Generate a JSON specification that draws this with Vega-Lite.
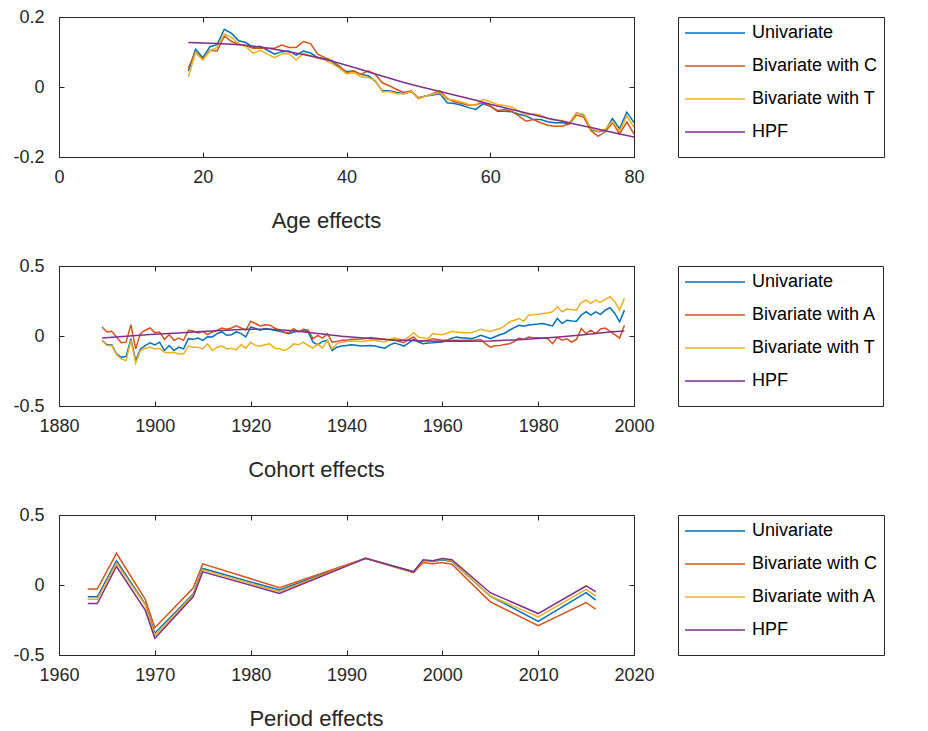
{
  "$schema": "https://vega.github.io/schema/vega-lite/v6.json",
  "padding": {"left": 12, "top": 7, "right": 0, "bottom": 0},
  "background": "white",
  "config": {
    "font": "Liberation Sans",
    "view": {"stroke": "#262626", "strokeWidth": 1},
    "locale": {"number": {"decimal": ".", "thousands": ",", "grouping": [3], "currency": ["$", ""], "minus": "-"}},
    "axis": {"grid": false, "domain": false, "tickColor": "#262626", "tickSize": -5, "tickWidth": 1, "labelFontSize": 18, "labelColor": "#262626", "titleFontSize": 22, "titleFontWeight": "normal", "titleColor": "#262626"},
    "axisX": {"labelPadding": 16, "titlePadding": 24, "labelFlush": false},
    "axisY": {"labelPadding": 20, "title": null},
    "legend": {"orient": "right", "offset": 43, "padding": 6, "strokeColor": "#262626", "symbolType": "stroke", "symbolSize": 3600, "symbolStrokeWidth": 1.5, "labelFontSize": 18, "labelColor": "#000000", "clipHeight": 20, "rowPadding": 13, "labelOffset": 6, "labelLimit": 400, "titleOrient": "bottom", "titleFontSize": 7, "titlePadding": 2},
    "concat": {"spacing": 24}
  },
  "datasets": {
    "age": [
      {"age": 18, "Univariate": 0.046, "Bivariate with C": 0.055, "Bivariate with T": 0.029, "HPF": 0.127},
      {"age": 19, "Univariate": 0.108, "Bivariate with C": 0.099, "Bivariate with T": 0.099},
      {"age": 20, "Univariate": 0.084, "Bivariate with C": 0.079, "Bivariate with T": 0.077, "HPF": 0.126},
      {"age": 21, "Univariate": 0.115, "Bivariate with C": 0.105, "Bivariate with T": 0.103},
      {"age": 22, "Univariate": 0.121, "Bivariate with C": 0.103, "Bivariate with T": 0.113, "HPF": 0.124},
      {"age": 23, "Univariate": 0.165, "Bivariate with C": 0.146, "Bivariate with T": 0.151},
      {"age": 24, "Univariate": 0.153, "Bivariate with C": 0.130, "Bivariate with T": 0.142, "HPF": 0.122},
      {"age": 25, "Univariate": 0.132, "Bivariate with C": 0.122, "Bivariate with T": 0.124},
      {"age": 26, "Univariate": 0.127, "Bivariate with C": 0.118, "Bivariate with T": 0.115, "HPF": 0.119},
      {"age": 27, "Univariate": 0.113, "Bivariate with C": 0.111, "Bivariate with T": 0.096},
      {"age": 28, "Univariate": 0.116, "Bivariate with C": 0.111, "Bivariate with T": 0.105, "HPF": 0.114},
      {"age": 29, "Univariate": 0.105, "Bivariate with C": 0.111, "Bivariate with T": 0.094},
      {"age": 30, "Univariate": 0.094, "Bivariate with C": 0.111, "Bivariate with T": 0.084, "HPF": 0.108},
      {"age": 31, "Univariate": 0.101, "Bivariate with C": 0.120, "Bivariate with T": 0.094},
      {"age": 32, "Univariate": 0.103, "Bivariate with C": 0.113, "Bivariate with T": 0.096, "HPF": 0.101},
      {"age": 33, "Univariate": 0.091, "Bivariate with C": 0.113, "Bivariate with T": 0.077},
      {"age": 34, "Univariate": 0.103, "Bivariate with C": 0.130, "Bivariate with T": 0.096, "HPF": 0.093},
      {"age": 35, "Univariate": 0.097, "Bivariate with C": 0.124, "Bivariate with T": 0.089},
      {"age": 36, "Univariate": 0.084, "Bivariate with C": 0.094, "Bivariate with T": 0.082, "HPF": 0.084},
      {"age": 37, "Univariate": 0.081, "Bivariate with C": 0.084, "Bivariate with T": 0.077},
      {"age": 38, "Univariate": 0.073, "Bivariate with C": 0.075, "Bivariate with T": 0.067, "HPF": 0.074},
      {"age": 39, "Univariate": 0.055, "Bivariate with C": 0.060, "Bivariate with T": 0.054},
      {"age": 40, "Univariate": 0.044, "Bivariate with C": 0.041, "Bivariate with T": 0.038, "HPF": 0.062},
      {"age": 41, "Univariate": 0.046, "Bivariate with C": 0.046, "Bivariate with T": 0.041},
      {"age": 42, "Univariate": 0.036, "Bivariate with C": 0.036, "Bivariate with T": 0.029, "HPF": 0.050},
      {"age": 43, "Univariate": 0.032, "Bivariate with C": 0.046, "Bivariate with T": 0.027},
      {"age": 44, "Univariate": 0.017, "Bivariate with C": 0.036, "Bivariate with T": 0.019, "HPF": 0.037},
      {"age": 45, "Univariate": -0.011, "Bivariate with C": 0.012, "Bivariate with T": -0.014},
      {"age": 46, "Univariate": -0.011, "Bivariate with C": 0.003, "Bivariate with T": -0.013, "HPF": 0.025},
      {"age": 47, "Univariate": -0.016, "Bivariate with C": -0.007, "Bivariate with T": -0.019},
      {"age": 48, "Univariate": -0.019, "Bivariate with C": -0.016, "Bivariate with T": -0.019, "HPF": 0.013},
      {"age": 49, "Univariate": -0.013, "Bivariate with C": -0.011, "Bivariate with T": -0.013},
      {"age": 50, "Univariate": -0.031, "Bivariate with C": -0.033, "Bivariate with T": -0.033, "HPF": 0.002},
      {"age": 51, "Univariate": -0.026, "Bivariate with C": -0.026, "Bivariate with T": -0.026},
      {"age": 52, "Univariate": -0.023, "Bivariate with C": -0.019, "Bivariate with T": -0.021, "HPF": -0.008},
      {"age": 53, "Univariate": -0.019, "Bivariate with C": -0.011, "Bivariate with T": -0.016},
      {"age": 54, "Univariate": -0.045, "Bivariate with C": -0.033, "Bivariate with T": -0.035, "HPF": -0.018},
      {"age": 55, "Univariate": -0.047, "Bivariate with C": -0.042, "Bivariate with T": -0.037},
      {"age": 56, "Univariate": -0.052, "Bivariate with C": -0.047, "Bivariate with T": -0.043, "HPF": -0.028},
      {"age": 57, "Univariate": -0.059, "Bivariate with C": -0.052, "Bivariate with T": -0.050},
      {"age": 58, "Univariate": -0.064, "Bivariate with C": -0.050, "Bivariate with T": -0.052, "HPF": -0.038},
      {"age": 59, "Univariate": -0.048, "Bivariate with C": -0.045, "Bivariate with T": -0.035},
      {"age": 60, "Univariate": -0.055, "Bivariate with C": -0.055, "Bivariate with T": -0.042, "HPF": -0.049},
      {"age": 61, "Univariate": -0.069, "Bivariate with C": -0.067, "Bivariate with T": -0.050},
      {"age": 62, "Univariate": -0.069, "Bivariate with C": -0.064, "Bivariate with T": -0.053, "HPF": -0.059},
      {"age": 63, "Univariate": -0.071, "Bivariate with C": -0.069, "Bivariate with T": -0.057},
      {"age": 64, "Univariate": -0.078, "Bivariate with C": -0.083, "Bivariate with T": -0.069, "HPF": -0.069},
      {"age": 65, "Univariate": -0.083, "Bivariate with C": -0.098, "Bivariate with T": -0.080},
      {"age": 66, "Univariate": -0.093, "Bivariate with C": -0.093, "Bivariate with T": -0.077, "HPF": -0.079},
      {"age": 67, "Univariate": -0.093, "Bivariate with C": -0.102, "Bivariate with T": -0.080},
      {"age": 68, "Univariate": -0.099, "Bivariate with C": -0.109, "Bivariate with T": -0.090, "HPF": -0.089},
      {"age": 69, "Univariate": -0.102, "Bivariate with C": -0.112, "Bivariate with T": -0.094},
      {"age": 70, "Univariate": -0.102, "Bivariate with C": -0.112, "Bivariate with T": -0.096, "HPF": -0.098},
      {"age": 71, "Univariate": -0.105, "Bivariate with C": -0.105, "Bivariate with T": -0.102},
      {"age": 72, "Univariate": -0.074, "Bivariate with C": -0.080, "Bivariate with T": -0.074, "HPF": -0.107},
      {"age": 73, "Univariate": -0.080, "Bivariate with C": -0.086, "Bivariate with T": -0.078},
      {"age": 74, "Univariate": -0.121, "Bivariate with C": -0.124, "Bivariate with T": -0.119, "HPF": -0.116},
      {"age": 75, "Univariate": -0.128, "Bivariate with C": -0.141, "Bivariate with T": -0.126},
      {"age": 76, "Univariate": -0.124, "Bivariate with C": -0.128, "Bivariate with T": -0.121, "HPF": -0.125},
      {"age": 77, "Univariate": -0.090, "Bivariate with C": -0.102, "Bivariate with T": -0.098},
      {"age": 78, "Univariate": -0.119, "Bivariate with C": -0.134, "Bivariate with T": -0.126, "HPF": -0.134},
      {"age": 79, "Univariate": -0.072, "Bivariate with C": -0.100, "Bivariate with T": -0.083},
      {"age": 80, "Univariate": -0.102, "Bivariate with C": -0.134, "Bivariate with T": -0.115, "HPF": -0.143}
    ],
    "cohort": [
      {"cohort": 1889, "Univariate": -0.031, "Bivariate with A": 0.064, "Bivariate with T": -0.031, "HPF": -0.015},
      {"cohort": 1890, "Univariate": -0.063, "Bivariate with A": 0.029, "Bivariate with T": -0.068},
      {"cohort": 1891, "Univariate": -0.063, "Bivariate with A": 0.033, "Bivariate with T": -0.068},
      {"cohort": 1892, "Univariate": -0.128, "Bivariate with A": -0.007, "Bivariate with T": -0.133},
      {"cohort": 1893, "Univariate": -0.152, "Bivariate with A": -0.048, "Bivariate with T": -0.164},
      {"cohort": 1894, "Univariate": -0.147, "Bivariate with A": -0.044, "Bivariate with T": -0.176, "HPF": -0.002},
      {"cohort": 1895, "Univariate": -0.019, "Bivariate with A": 0.081, "Bivariate with T": -0.031},
      {"cohort": 1896, "Univariate": -0.176, "Bivariate with A": -0.092, "Bivariate with T": -0.193},
      {"cohort": 1897, "Univariate": -0.092, "Bivariate with A": 0.017, "Bivariate with T": -0.104},
      {"cohort": 1898, "Univariate": -0.068, "Bivariate with A": 0.041, "Bivariate with T": -0.087},
      {"cohort": 1899, "Univariate": -0.048, "Bivariate with A": 0.057, "Bivariate with T": -0.080, "HPF": 0.010},
      {"cohort": 1900, "Univariate": -0.063, "Bivariate with A": 0.024, "Bivariate with T": -0.092},
      {"cohort": 1901, "Univariate": -0.044, "Bivariate with A": 0.029, "Bivariate with T": -0.087},
      {"cohort": 1902, "Univariate": -0.104, "Bivariate with A": -0.024, "Bivariate with T": -0.116},
      {"cohort": 1903, "Univariate": -0.068, "Bivariate with A": 0.009, "Bivariate with T": -0.120},
      {"cohort": 1904, "Univariate": -0.104, "Bivariate with A": -0.031, "Bivariate with T": -0.116, "HPF": 0.020},
      {"cohort": 1905, "Univariate": -0.080, "Bivariate with A": -0.015, "Bivariate with T": -0.128},
      {"cohort": 1906, "Univariate": -0.092, "Bivariate with A": -0.031, "Bivariate with T": -0.128},
      {"cohort": 1907, "Univariate": -0.019, "Bivariate with A": 0.041, "Bivariate with T": -0.072},
      {"cohort": 1908, "Univariate": -0.024, "Bivariate with A": 0.036, "Bivariate with T": -0.080},
      {"cohort": 1909, "Univariate": -0.015, "Bivariate with A": 0.021, "Bivariate with T": -0.080, "HPF": 0.030},
      {"cohort": 1910, "Univariate": -0.031, "Bivariate with A": 0.033, "Bivariate with T": -0.092},
      {"cohort": 1911, "Univariate": -0.005, "Bivariate with A": 0.010, "Bivariate with T": -0.056},
      {"cohort": 1912, "Univariate": -0.007, "Bivariate with A": 0.029, "Bivariate with T": -0.104},
      {"cohort": 1913, "Univariate": 0.017, "Bivariate with A": 0.041, "Bivariate with T": -0.080},
      {"cohort": 1914, "Univariate": 0.029, "Bivariate with A": 0.057, "Bivariate with T": -0.072, "HPF": 0.040},
      {"cohort": 1915, "Univariate": 0.005, "Bivariate with A": 0.048, "Bivariate with T": -0.092},
      {"cohort": 1916, "Univariate": 0.009, "Bivariate with A": 0.057, "Bivariate with T": -0.087},
      {"cohort": 1917, "Univariate": 0.029, "Bivariate with A": 0.072, "Bivariate with T": -0.099},
      {"cohort": 1918, "Univariate": 0.017, "Bivariate with A": 0.057, "Bivariate with T": -0.063},
      {"cohort": 1919, "Univariate": -0.007, "Bivariate with A": 0.041, "Bivariate with T": -0.087, "HPF": 0.048},
      {"cohort": 1920, "Univariate": 0.065, "Bivariate with A": 0.105, "Bivariate with T": -0.044},
      {"cohort": 1921, "Univariate": 0.053, "Bivariate with A": 0.089, "Bivariate with T": -0.068},
      {"cohort": 1922, "Univariate": 0.041, "Bivariate with A": 0.072, "Bivariate with T": -0.072},
      {"cohort": 1923, "Univariate": 0.053, "Bivariate with A": 0.081, "Bivariate with T": -0.063},
      {"cohort": 1924, "Univariate": 0.048, "Bivariate with A": 0.077, "Bivariate with T": -0.056, "HPF": 0.048},
      {"cohort": 1925, "Univariate": 0.041, "Bivariate with A": 0.057, "Bivariate with T": -0.087},
      {"cohort": 1926, "Univariate": 0.033, "Bivariate with A": 0.041, "Bivariate with T": -0.092},
      {"cohort": 1927, "Univariate": 0.024, "Bivariate with A": 0.029, "Bivariate with T": -0.104},
      {"cohort": 1928, "Univariate": 0.017, "Bivariate with A": 0.024, "Bivariate with T": -0.087},
      {"cohort": 1929, "Univariate": 0.029, "Bivariate with A": 0.053, "Bivariate with T": -0.056, "HPF": 0.038},
      {"cohort": 1930, "Univariate": 0.033, "Bivariate with A": 0.029, "Bivariate with T": -0.063},
      {"cohort": 1931, "Univariate": 0.041, "Bivariate with A": 0.048, "Bivariate with T": -0.044},
      {"cohort": 1932, "Univariate": 0.029, "Bivariate with A": 0.041, "Bivariate with T": -0.068},
      {"cohort": 1933, "Univariate": -0.044, "Bivariate with A": -0.019, "Bivariate with T": -0.087},
      {"cohort": 1934, "Univariate": -0.063, "Bivariate with A": 0.005, "Bivariate with T": -0.056, "HPF": 0.018},
      {"cohort": 1935, "Univariate": -0.039, "Bivariate with A": -0.015, "Bivariate with T": -0.087},
      {"cohort": 1936, "Univariate": -0.031, "Bivariate with A": 0.017, "Bivariate with T": -0.031},
      {"cohort": 1937, "Univariate": -0.104, "Bivariate with A": -0.044, "Bivariate with T": -0.092},
      {"cohort": 1938, "Univariate": -0.080, "Bivariate with A": -0.039, "Bivariate with T": -0.056},
      {"cohort": 1939, "Univariate": -0.072, "Bivariate with A": -0.031, "Bivariate with T": -0.044, "HPF": -0.002},
      {"cohort": 1940, "Univariate": -0.068, "Bivariate with A": -0.031, "Bivariate with T": -0.039},
      {"cohort": 1941, "Univariate": -0.063, "Bivariate with A": -0.024, "Bivariate with T": -0.036},
      {"cohort": 1942, "Univariate": -0.066, "Bivariate with A": -0.023, "Bivariate with T": -0.037},
      {"cohort": 1943, "Univariate": -0.072, "Bivariate with A": -0.022, "Bivariate with T": -0.039},
      {"cohort": 1944, "Univariate": -0.070, "Bivariate with A": -0.018, "Bivariate with T": -0.035},
      {"cohort": 1945, "Univariate": -0.068, "Bivariate with A": -0.010, "Bivariate with T": -0.031, "HPF": -0.018},
      {"cohort": 1946, "Univariate": -0.072, "Bivariate with A": -0.015, "Bivariate with T": -0.033},
      {"cohort": 1947, "Univariate": -0.080, "Bivariate with A": -0.020, "Bivariate with T": -0.038},
      {"cohort": 1948, "Univariate": -0.087, "Bivariate with A": -0.024, "Bivariate with T": -0.043},
      {"cohort": 1949, "Univariate": -0.065, "Bivariate with A": -0.028, "Bivariate with T": -0.025},
      {"cohort": 1950, "Univariate": -0.050, "Bivariate with A": -0.031, "Bivariate with T": -0.015, "HPF": -0.028},
      {"cohort": 1951, "Univariate": -0.060, "Bivariate with A": -0.040, "Bivariate with T": -0.022},
      {"cohort": 1952, "Univariate": -0.072, "Bivariate with A": -0.048, "Bivariate with T": -0.031},
      {"cohort": 1953, "Univariate": -0.050, "Bivariate with A": -0.025, "Bivariate with T": -0.005},
      {"cohort": 1954, "Univariate": -0.024, "Bivariate with A": -0.007, "Bivariate with T": 0.024},
      {"cohort": 1955, "Univariate": -0.043, "Bivariate with A": -0.039, "Bivariate with T": -0.007, "HPF": -0.034},
      {"cohort": 1956, "Univariate": -0.055, "Bivariate with A": -0.035, "Bivariate with T": -0.015},
      {"cohort": 1957, "Univariate": -0.050, "Bivariate with A": -0.030, "Bivariate with T": -0.019},
      {"cohort": 1958, "Univariate": -0.048, "Bivariate with A": -0.019, "Bivariate with T": 0.017},
      {"cohort": 1959, "Univariate": -0.045, "Bivariate with A": -0.025, "Bivariate with T": 0.012},
      {"cohort": 1960, "Univariate": -0.043, "Bivariate with A": -0.031, "Bivariate with T": 0.009, "HPF": -0.037},
      {"cohort": 1961, "Univariate": -0.030, "Bivariate with A": -0.031, "Bivariate with T": 0.020},
      {"cohort": 1962, "Univariate": -0.015, "Bivariate with A": -0.031, "Bivariate with T": 0.033},
      {"cohort": 1963, "Univariate": -0.007, "Bivariate with A": -0.031, "Bivariate with T": 0.028},
      {"cohort": 1964, "Univariate": -0.015, "Bivariate with A": -0.033, "Bivariate with T": 0.024},
      {"cohort": 1965, "Univariate": -0.015, "Bivariate with A": -0.030, "Bivariate with T": 0.024, "HPF": -0.038},
      {"cohort": 1966, "Univariate": -0.019, "Bivariate with A": -0.031, "Bivariate with T": 0.024},
      {"cohort": 1967, "Univariate": -0.010, "Bivariate with A": -0.028, "Bivariate with T": 0.035},
      {"cohort": 1968, "Univariate": 0.005, "Bivariate with A": -0.025, "Bivariate with T": 0.048},
      {"cohort": 1969, "Univariate": -0.005, "Bivariate with A": -0.055, "Bivariate with T": 0.040},
      {"cohort": 1970, "Univariate": -0.019, "Bivariate with A": -0.080, "Bivariate with T": 0.033, "HPF": -0.035},
      {"cohort": 1971, "Univariate": -0.005, "Bivariate with A": -0.070, "Bivariate with T": 0.045},
      {"cohort": 1972, "Univariate": 0.009, "Bivariate with A": -0.067, "Bivariate with T": 0.053},
      {"cohort": 1973, "Univariate": 0.020, "Bivariate with A": -0.060, "Bivariate with T": 0.072},
      {"cohort": 1974, "Univariate": 0.041, "Bivariate with A": -0.055, "Bivariate with T": 0.100},
      {"cohort": 1975, "Univariate": 0.060, "Bivariate with A": -0.040, "Bivariate with T": 0.113, "HPF": -0.028},
      {"cohort": 1976, "Univariate": 0.077, "Bivariate with A": -0.015, "Bivariate with T": 0.125},
      {"cohort": 1977, "Univariate": 0.070, "Bivariate with A": -0.025, "Bivariate with T": 0.105},
      {"cohort": 1978, "Univariate": 0.078, "Bivariate with A": -0.007, "Bivariate with T": 0.149},
      {"cohort": 1979, "Univariate": 0.082, "Bivariate with A": -0.012, "Bivariate with T": 0.152},
      {"cohort": 1980, "Univariate": 0.085, "Bivariate with A": -0.013, "Bivariate with T": 0.156, "HPF": -0.018},
      {"cohort": 1981, "Univariate": 0.089, "Bivariate with A": -0.015, "Bivariate with T": 0.161},
      {"cohort": 1982, "Univariate": 0.080, "Bivariate with A": -0.020, "Bivariate with T": 0.165},
      {"cohort": 1983, "Univariate": 0.072, "Bivariate with A": -0.055, "Bivariate with T": 0.173},
      {"cohort": 1984, "Univariate": 0.125, "Bivariate with A": -0.010, "Bivariate with T": 0.209},
      {"cohort": 1985, "Univariate": 0.089, "Bivariate with A": -0.030, "Bivariate with T": 0.173, "HPF": -0.005},
      {"cohort": 1986, "Univariate": 0.113, "Bivariate with A": -0.020, "Bivariate with T": 0.192},
      {"cohort": 1987, "Univariate": 0.108, "Bivariate with A": -0.043, "Bivariate with T": 0.188},
      {"cohort": 1988, "Univariate": 0.105, "Bivariate with A": -0.025, "Bivariate with T": 0.185},
      {"cohort": 1989, "Univariate": 0.150, "Bivariate with A": 0.053, "Bivariate with T": 0.240},
      {"cohort": 1990, "Univariate": 0.173, "Bivariate with A": 0.017, "Bivariate with T": 0.257, "HPF": 0.010},
      {"cohort": 1991, "Univariate": 0.149, "Bivariate with A": 0.041, "Bivariate with T": 0.233},
      {"cohort": 1992, "Univariate": 0.173, "Bivariate with A": 0.017, "Bivariate with T": 0.257},
      {"cohort": 1993, "Univariate": 0.155, "Bivariate with A": 0.050, "Bivariate with T": 0.240},
      {"cohort": 1994, "Univariate": 0.185, "Bivariate with A": 0.057, "Bivariate with T": 0.262},
      {"cohort": 1995, "Univariate": 0.202, "Bivariate with A": 0.033, "Bivariate with T": 0.281, "HPF": 0.028},
      {"cohort": 1996, "Univariate": 0.161, "Bivariate with A": 0.010, "Bivariate with T": 0.245},
      {"cohort": 1997, "Univariate": 0.101, "Bivariate with A": -0.015, "Bivariate with T": 0.185},
      {"cohort": 1998, "Univariate": 0.185, "Bivariate with A": 0.077, "Bivariate with T": 0.269, "HPF": 0.036}
    ],
    "period": [
      {"period": 1963, "Univariate": -0.084, "Bivariate with C": -0.029, "Bivariate with A": -0.101, "HPF": -0.132},
      {"period": 1964, "Univariate": -0.084, "Bivariate with C": -0.029, "Bivariate with A": -0.101, "HPF": -0.132},
      {"period": 1966, "Univariate": 0.173, "Bivariate with C": 0.226, "Bivariate with A": 0.156, "HPF": 0.132},
      {"period": 1969, "Univariate": -0.137, "Bivariate with C": -0.103, "Bivariate with A": -0.144, "HPF": -0.180},
      {"period": 1970, "Univariate": -0.344, "Bivariate with C": -0.305, "Bivariate with A": -0.361, "HPF": -0.380},
      {"period": 1974, "Univariate": -0.065, "Bivariate with C": -0.022, "Bivariate with A": -0.072, "HPF": -0.084},
      {"period": 1975, "Univariate": 0.118, "Bivariate with C": 0.151, "Bivariate with A": 0.108, "HPF": 0.094},
      {"period": 1983, "Univariate": -0.036, "Bivariate with C": -0.019, "Bivariate with A": -0.048, "HPF": -0.060},
      {"period": 1992, "Univariate": 0.19, "Bivariate with C": 0.19, "Bivariate with A": 0.19, "HPF": 0.19},
      {"period": 1997, "Univariate": 0.094, "Bivariate with C": 0.089, "Bivariate with A": 0.091, "HPF": 0.094},
      {"period": 1998, "Univariate": 0.175, "Bivariate with C": 0.161, "Bivariate with A": 0.173, "HPF": 0.180},
      {"period": 1999, "Univariate": 0.168, "Bivariate with C": 0.151, "Bivariate with A": 0.171, "HPF": 0.173},
      {"period": 2000, "Univariate": 0.180, "Bivariate with C": 0.161, "Bivariate with A": 0.185, "HPF": 0.190},
      {"period": 2001, "Univariate": 0.168, "Bivariate with C": 0.149, "Bivariate with A": 0.173, "HPF": 0.180},
      {"period": 2005, "Univariate": -0.079, "Bivariate with C": -0.120, "Bivariate with A": -0.079, "HPF": -0.055},
      {"period": 2010, "Univariate": -0.260, "Bivariate with C": -0.291, "Bivariate with A": -0.228, "HPF": -0.204},
      {"period": 2015, "Univariate": -0.055, "Bivariate with C": -0.125, "Bivariate with A": -0.031, "HPF": -0.007},
      {"period": 2016, "Univariate": -0.108, "Bivariate with C": -0.173, "Bivariate with A": -0.079, "HPF": -0.048}
    ]
  },
  "vconcat": [
    {
      "width": 575, "height": 140,
      "data": {"name": "age"},
      "transform": [{"fold": ["Univariate", "Bivariate with C", "Bivariate with T", "HPF"], "as": ["series", "value"]}, {"filter": "isValid(datum.value)"}],
      "layer": [
        {
          "mark": {"type": "line", "strokeWidth": 1.5, "clip": true},
          "encoding": {
            "x": {"field": "age", "type": "quantitative", "scale": {"domain": [0, 80], "nice": false, "zero": false}, "axis": {"values": [0, 20, 40, 60, 80], "format": "d", "title": "Age effects", "titleX": 267}},
            "y": {"field": "value", "type": "quantitative", "scale": {"domain": [-0.2, 0.2], "nice": false}, "axis": {"values": [-0.2, 0, 0.2], "format": "~g"}},
            "color": {"field": "series", "type": "nominal", "sort": null, "scale": {"domain": ["Univariate", "Bivariate with C", "Bivariate with T", "HPF"], "range": ["#0072BD", "#D95319", "#EDB120", "#7E2F8E"]}, "legend": {"title": "\u00a0"}}
          }
        },
        {
          "mark": {"type": "point", "opacity": 0, "size": 0},
          "encoding": {
            "x": {"field": "age", "type": "quantitative", "scale": {"domain": [0, 80], "nice": false, "zero": false}, "axis": {"orient": "top", "values": [0, 20, 40, 60, 80], "labels": false, "title": null}},
            "y": {"field": "value", "type": "quantitative", "scale": {"domain": [-0.2, 0.2], "nice": false}, "axis": {"orient": "right", "values": [-0.2, 0, 0.2], "labels": false, "title": null}}
          }
        }
      ],
      "resolve": {"axis": {"x": "independent", "y": "independent"}}
    },
    {
      "width": 575, "height": 140,
      "data": {"name": "cohort"},
      "transform": [{"fold": ["Univariate", "Bivariate with A", "Bivariate with T", "HPF"], "as": ["series", "value"]}, {"filter": "isValid(datum.value)"}],
      "layer": [
        {
          "mark": {"type": "line", "strokeWidth": 1.5, "clip": true},
          "encoding": {
            "x": {"field": "cohort", "type": "quantitative", "scale": {"domain": [1880, 2000], "nice": false, "zero": false}, "axis": {"values": [1880, 1900, 1920, 1940, 1960, 1980, 2000], "format": "d", "title": "Cohort effects", "titleX": 257}},
            "y": {"field": "value", "type": "quantitative", "scale": {"domain": [-0.5, 0.5], "nice": false}, "axis": {"values": [-0.5, 0, 0.5], "format": "~g"}},
            "color": {"field": "series", "type": "nominal", "sort": null, "scale": {"domain": ["Univariate", "Bivariate with A", "Bivariate with T", "HPF"], "range": ["#0072BD", "#D95319", "#EDB120", "#7E2F8E"]}, "legend": {"title": "\u00a0"}}
          }
        },
        {
          "mark": {"type": "point", "opacity": 0, "size": 0},
          "encoding": {
            "x": {"field": "cohort", "type": "quantitative", "scale": {"domain": [1880, 2000], "nice": false, "zero": false}, "axis": {"orient": "top", "values": [1880, 1900, 1920, 1940, 1960, 1980, 2000], "labels": false, "title": null}},
            "y": {"field": "value", "type": "quantitative", "scale": {"domain": [-0.5, 0.5], "nice": false}, "axis": {"orient": "right", "values": [-0.5, 0, 0.5], "labels": false, "title": null}}
          }
        }
      ],
      "resolve": {"axis": {"x": "independent", "y": "independent"}}
    },
    {
      "width": 575, "height": 140,
      "data": {"name": "period"},
      "transform": [{"fold": ["Univariate", "Bivariate with C", "Bivariate with A", "HPF"], "as": ["series", "value"]}, {"filter": "isValid(datum.value)"}],
      "layer": [
        {
          "mark": {"type": "line", "strokeWidth": 1.5, "clip": true},
          "encoding": {
            "x": {"field": "period", "type": "quantitative", "scale": {"domain": [1960, 2020], "nice": false, "zero": false}, "axis": {"values": [1960, 1970, 1980, 1990, 2000, 2010, 2020], "format": "d", "title": "Period effects", "titleX": 257}},
            "y": {"field": "value", "type": "quantitative", "scale": {"domain": [-0.5, 0.5], "nice": false}, "axis": {"values": [-0.5, 0, 0.5], "format": "~g"}},
            "color": {"field": "series", "type": "nominal", "sort": null, "scale": {"domain": ["Univariate", "Bivariate with C", "Bivariate with A", "HPF"], "range": ["#0072BD", "#D95319", "#EDB120", "#7E2F8E"]}, "legend": {"title": "\u00a0"}}
          }
        },
        {
          "mark": {"type": "point", "opacity": 0, "size": 0},
          "encoding": {
            "x": {"field": "period", "type": "quantitative", "scale": {"domain": [1960, 2020], "nice": false, "zero": false}, "axis": {"orient": "top", "values": [1960, 1970, 1980, 1990, 2000, 2010, 2020], "labels": false, "title": null}},
            "y": {"field": "value", "type": "quantitative", "scale": {"domain": [-0.5, 0.5], "nice": false}, "axis": {"orient": "right", "values": [-0.5, 0, 0.5], "labels": false, "title": null}}
          }
        }
      ],
      "resolve": {"axis": {"x": "independent", "y": "independent"}}
    }
  ],
  "resolve": {"scale": {"color": "independent"}}
}
